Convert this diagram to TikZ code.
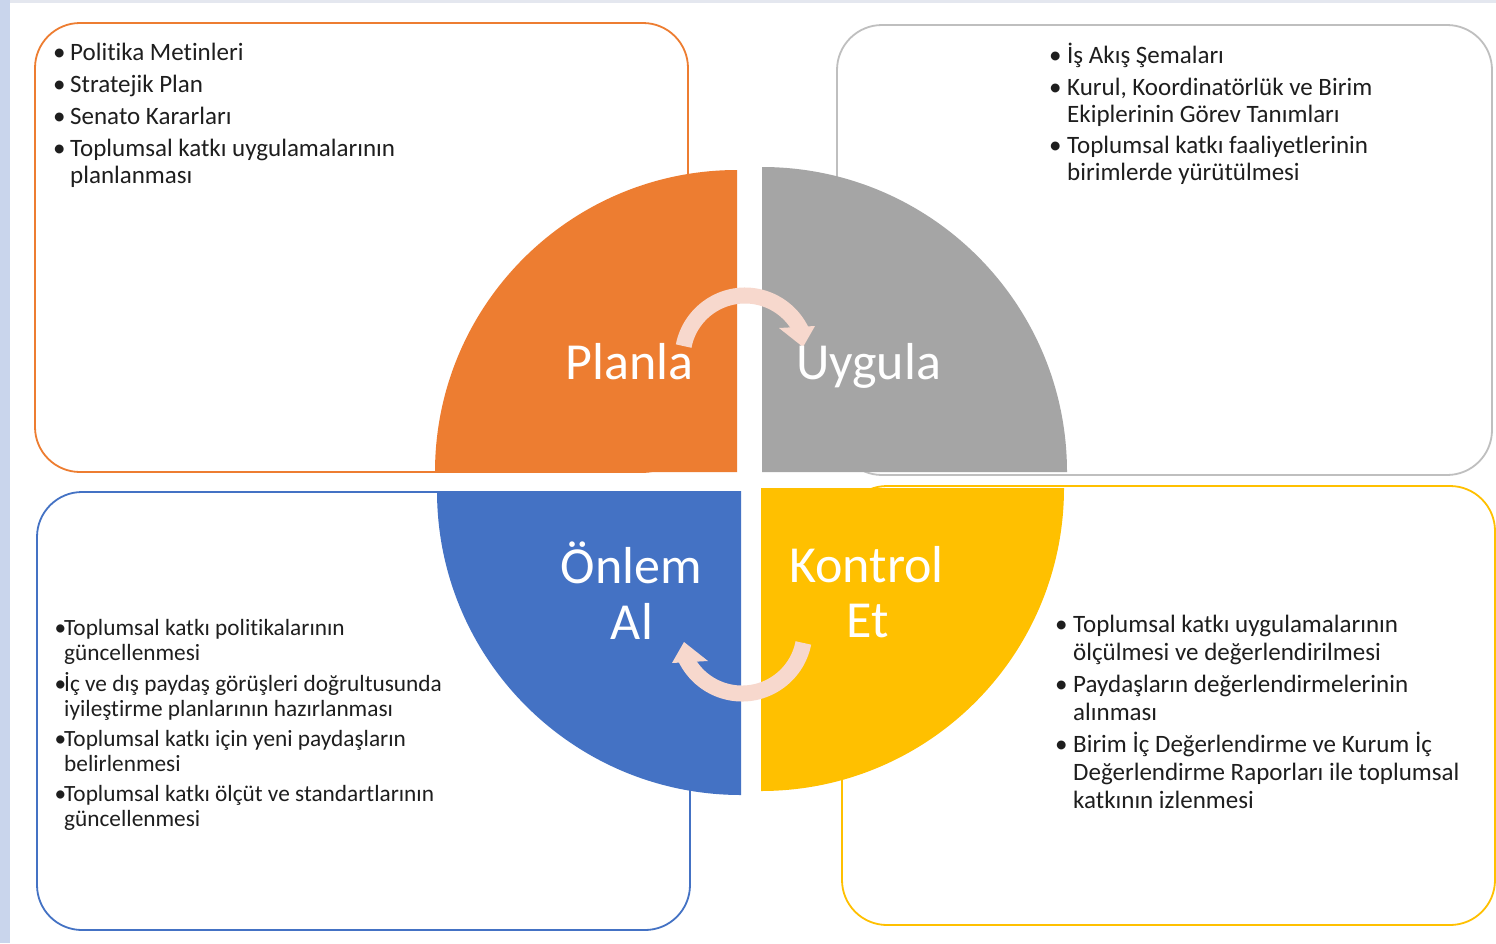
\documentclass[tikz,border=0pt]{standalone}
\usepackage{fontspec}
\setmainfont[Ligatures=NoCommon]{Carlito}
\definecolor{cOrange}{HTML}{ED7D31}
\definecolor{cGray}{HTML}{A5A5A5}
\definecolor{cGrayLine}{HTML}{BFBFBF}
\definecolor{cBlue}{HTML}{4472C4}
\definecolor{cYellow}{HTML}{FFC000}
\definecolor{cArrow}{RGB}{247,216,205}
\definecolor{cStrip}{RGB}{201,213,236}
\definecolor{cTop}{RGB}{228,231,239}
\definecolor{cText}{RGB}{30,30,30}
\newcommand\bul[1]{\makebox[#1][l]{\textbullet}}
\begin{document}
\begin{tikzpicture}[x=1pt,y=-1pt,
  box/.style={rounded corners=45pt, line width=1.8pt},
  lst/.style={anchor=base west, inner sep=0pt, text=cText, font=\fontsize{25}{27}\selectfont},
  big/.style={anchor=base, inner sep=0pt, text=white, font=\fontsize{52}{57}\selectfont},
  cyc/.style={draw=cArrow, line width=16pt},
  head/.style={fill=cArrow}]
\useasboundingbox (0,0) rectangle (1496,943);
\fill[white] (0,0) rectangle (1496,943);
\fill[cStrip] (0,0) rectangle (10,943);
\fill[cTop] (10,0) rectangle (1496,3);

% text boxes
\draw[box, draw=cOrange] (35,23) rectangle (688,472);
\draw[box, draw=cGrayLine] (837,25) rectangle (1492,475);
\draw[box, draw=cBlue] (37,492) rectangle (690,930);
\draw[box, draw=cYellow] (842,486) rectangle (1495,925);

% quarters
\fill[cOrange] (737,472) -- (435,472) arc[start angle=180,end angle=270,radius=302] -- cycle;
\fill[cGray] (762,472) -- (762,167) arc[start angle=270,end angle=360,radius=305] -- cycle;
\fill[cBlue] (741,491) -- (741,795) arc[start angle=90,end angle=180,radius=304] -- cycle;
\fill[cYellow] (761,488) -- (1064,488) arc[start angle=0,end angle=90,radius=303] -- cycle;

% cycle arrows
\draw[cyc] (683.65,346.07) arc[start angle=191,end angle=335,radius=62.5];
\fill[head] (779,328) -- (815,326) -- (803,347) -- cycle;
\draw[cyc] (803.35,642.93) arc[start angle=11,end angle=155,radius=62.5];
\fill[head] (708,661) -- (672,663) -- (684,642) -- cycle;

% labels
\node[big] (planla) at (629.5,379) {Planla};
\node[big] (uygula) at (868.5,379) {Uygula};
\node[big] (onlem) at (631.5,583) {Önlem};
\node[big] (al) at (632,639) {Al};
\node[big] (kontrol) at (866.5,582) {Kontrol};
\node[big] (et) at (867.5,637) {Et};

% lists
\node[lst] (tl) at (53,60) {\begin{tabular}[t]{@{}l@{}l@{}}
\bul{17pt} & Politika Metinleri\\[5pt]
\bul{17pt} & Stratejik Plan\\[5pt]
\bul{17pt} & Senato Kararları\\[5pt]
\bul{17pt} & Toplumsal katkı uygulamalarının\\
 & planlanması
\end{tabular}};

\node[lst] (tr) at (1049,63) {\begin{tabular}[t]{@{}l@{}l@{}}
\bul{18pt} & İş Akış Şemaları\\[5pt]
\bul{18pt} & Kurul, Koordinatörlük ve Birim\\
 & Ekiplerinin Görev Tanımları\\[4pt]
\bul{18pt} & Toplumsal katkı faaliyetlerinin\\
 & birimlerde yürütülmesi
\end{tabular}};

\node[lst, font=\fontsize{23.3}{25}\selectfont] (bl) at (54.5,635) {\begin{tabular}[t]{@{}l@{}l@{}}
\bul{9.5pt} & Toplumsal katkı politikalarının\\
 & güncellenmesi\\[5pt]
\bul{9.5pt} & İç ve dış paydaş görüşleri doğrultusunda\\
 & iyileştirme planlarının hazırlanması\\[5pt]
\bul{9.5pt} & Toplumsal katkı için yeni paydaşların\\
 & belirlenmesi\\[5pt]
\bul{9.5pt} & Toplumsal katkı ölçüt ve standartlarının\\
 & güncellenmesi
\end{tabular}};

\node[lst, font=\fontsize{25}{28}\selectfont] (br) at (1055,632) {\begin{tabular}[t]{@{}l@{}l@{}}
\bul{18pt} & Toplumsal katkı uygulamalarının\\
 & ölçülmesi ve değerlendirilmesi\\[4pt]
\bul{18pt} & Paydaşların değerlendirmelerinin\\
 & alınması\\[4pt]
\bul{18pt} & Birim İç Değerlendirme ve Kurum İç\\
 & Değerlendirme Raporları ile toplumsal\\
 & katkının izlenmesi
\end{tabular}};
\end{tikzpicture}
\end{document}
